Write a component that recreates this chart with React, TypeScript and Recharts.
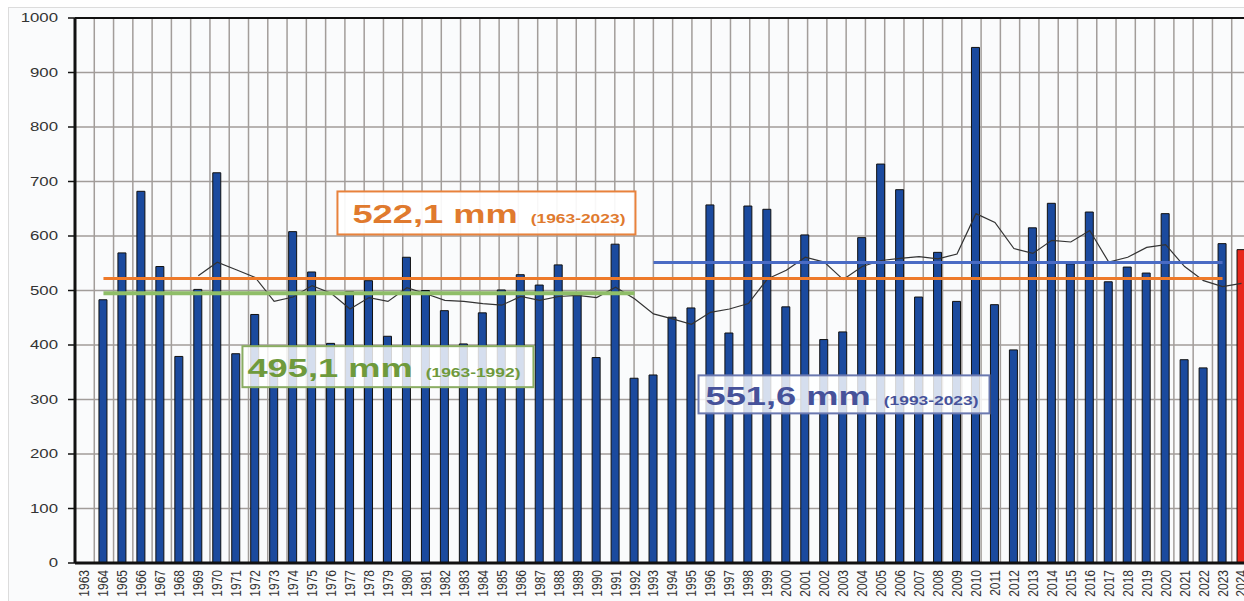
import React from 'react'
import {
  ComposedChart,
  Bar,
  Line,
  Cell,
  XAxis,
  YAxis,
  CartesianGrid,
  ReferenceLine
} from 'recharts'

// Jahre 1963-2024
const years = [
  '1963', '1964', '1965', '1966', '1967', '1968', '1969', '1970', '1971', '1972',
  '1973', '1974', '1975', '1976', '1977', '1978', '1979', '1980', '1981', '1982',
  '1983', '1984', '1985', '1986', '1987', '1988', '1989', '1990', '1991', '1992',
  '1993', '1994', '1995', '1996', '1997', '1998', '1999', '2000', '2001', '2002',
  '2003', '2004', '2005', '2006', '2007', '2008', '2009', '2010', '2011', '2012',
  '2013', '2014', '2015', '2016', '2017', '2018', '2019', '2020', '2021', '2022',
  '2023', '2024'
]

// Jahresniederschlag in mm
const rain = [
  null, 483, 569, 682, 544, 379, 502, 716, 384, 456,
  370, 608, 534, 403, 498, 518, 416, 561, 500, 463,
  402, 459, 501, 529, 510, 547, 492, 377, 585, 339,
  345, 451, 468, 657, 422, 655, 649, 470, 602, 410,
  424, 597, 732, 685, 488, 570, 480, 946, 474, 391,
  615, 660, 549, 644, 516, 543, 532, 641, 373, 358,
  586, 575
]

// gleitendes Mittel (dünne schwarze Linie)
const movingAvg = [
  null, null, null, null, null, null, 527, 552, 538, 524,
  480, 488, 509, 495, 466, 487, 480, 505, 494, 482,
  480, 476, 473, 489, 482, 489, 491, 487, 506, 485,
  457, 448, 438, 460, 466, 476, 521, 537, 561, 552,
  520, 544, 555, 559, 562, 558, 567, 641, 625, 577,
  568, 592, 589, 610, 552, 561, 579, 584, 544, 518,
  507, 513
]

const yTicks = [0, 100, 200, 300, 400, 500, 600, 700, 800, 900, 1000]

const BAR_BLUE = '#1b4a9e'
const BAR_RED = '#e8281c'

const FONT = '"Liberation Sans", Arial, sans-serif'

const chartData = years.map((year, i) => ({
  year,
  rain: rain[i],
  avg: movingAvg[i]
}))

// Grenzen zwischen den Jahren, für Gitterlinien und Striche
const boundaries = [...years.map((_, i) => i), years.length]

function YTick({ x, y, payload }: any) {
  return (
    <text
      transform={`translate(${x},${y}) scale(1.4,1)`}
      textAnchor="end"
      dominantBaseline="central"
      fontSize={12}
      fontFamily={FONT}
      fill="#333"
    >
      {payload.value}
    </text>
  )
}

function XTick({ x, y, payload }: any) {
  return (
    <text
      transform={`translate(${x},${y}) scale(1.25,1) rotate(-90)`}
      textAnchor="end"
      dominantBaseline="central"
      fontSize={12}
      fontFamily={FONT}
      fill="#333"
    >
      {payload.value}
    </text>
  )
}

function BoxLabel({ viewBox, dx, dy, w, h, tx, ty, value, period, color, border, opacity }: any) {
  if (!viewBox) return null
  const left = viewBox.x + dx
  const top = viewBox.y + dy
  return (
    <g>
      <rect
        x={left}
        y={top}
        width={w}
        height={h}
        fill="#ffffff"
        fillOpacity={opacity}
        stroke={border}
        strokeWidth={2}
      />
      <text
        transform={`translate(${left + tx},${top + ty}) scale(1.45,1)`}
        fontFamily={FONT}
        fontWeight="bold"
        fill={color}
      >
        <tspan fontSize={25}>{value}</tspan>
        <tspan fontSize={12} dx={9}>{period}</tspan>
      </text>
    </g>
  )
}

export default function App() {
  return (
    <div
      style={{
        position: 'fixed',
        left: 0,
        top: 0,
        width: 1244,
        height: 601,
        overflow: 'hidden',
        background: '#ffffff'
      }}
    >
      <div
        style={{
          position: 'absolute',
          left: 8,
          top: 7,
          width: 1250,
          height: 600,
          borderTop: '1px solid #dcdcdc',
          borderLeft: '1px solid #dcdcdc',
          background: '#fafbfc'
        }}
      />
      <div style={{ position: 'absolute', left: 0, top: 0 }}>
        <ComposedChart
          width={1270}
          height={601}
          data={chartData}
          margin={{ top: 18, right: 19, bottom: 0, left: 0 }}
          barCategoryGap={0}
        >
          <XAxis
            xAxisId="grid"
            type="number"
            domain={[0, years.length]}
            ticks={boundaries}
            allowDataOverflow
            height={0}
            axisLine={false}
            tickLine={{ stroke: '#111', strokeWidth: 2 }}
            tickSize={5}
            tick={() => <g />}
            interval={0}
          />
          <XAxis
            xAxisId="cat"
            dataKey="year"
            height={38}
            interval={0}
            tickLine={false}
            tickSize={5}
            tickMargin={2}
            axisLine={{ stroke: '#111', strokeWidth: 3 }}
            tick={<XTick />}
          />
          <YAxis
            domain={[0, 1000]}
            ticks={yTicks}
            width={75}
            interval={0}
            axisLine={{ stroke: '#111', strokeWidth: 3 }}
            tickLine={{ stroke: '#111', strokeWidth: 1.5 }}
            tickSize={7}
            tickMargin={10}
            tick={<YTick />}
          />
          <CartesianGrid xAxisId="grid" stroke="#a29d9a" strokeWidth={1.5} />
          <Bar
            xAxisId="cat"
            dataKey="rain"
            barSize={8}
            stroke="#111"
            strokeWidth={1}
            isAnimationActive={false}
          >
            {chartData.map((d, i) => (
              <Cell key={d.year} fill={i === years.length - 1 ? BAR_RED : BAR_BLUE} />
            ))}
          </Bar>
          <Line
            xAxisId="cat"
            dataKey="avg"
            type="linear"
            stroke="#333"
            strokeWidth={1.2}
            dot={false}
            connectNulls
            isAnimationActive={false}
          />
          <ReferenceLine xAxisId="cat" y={1000} stroke="#111" strokeWidth={2} ifOverflow="visible" />
          <ReferenceLine
            xAxisId="cat"
            segment={[{ x: '1964', y: 495.1 }, { x: '1992', y: 495.1 }]}
            stroke="#8fbe68"
            strokeWidth={4}
            ifOverflow="visible"
            label={
              <BoxLabel
                dx={139}
                dy={53}
                w={291}
                h={41}
                tx={5}
                ty={31}
                value="495,1 mm"
                period="(1963-1992)"
                color="#6f9a3c"
                border="#8aad62"
                opacity={0.82}
              />
            }
          />
          <ReferenceLine
            xAxisId="cat"
            segment={[{ x: '1964', y: 522.1 }, { x: '2023', y: 522.1 }]}
            stroke="#ee7a2a"
            strokeWidth={3}
            ifOverflow="visible"
            label={
              <BoxLabel
                dx={234}
                dy={-87}
                w={298}
                h={43}
                tx={15}
                ty={32}
                value="522,1 mm"
                period="(1963-2023)"
                color="#e07a2e"
                border="#e8823c"
                opacity={0.92}
              />
            }
          />
          <ReferenceLine
            xAxisId="cat"
            segment={[{ x: '1993', y: 551.6 }, { x: '2023', y: 551.6 }]}
            stroke="#4a6bc4"
            strokeWidth={3}
            ifOverflow="visible"
            label={
              <BoxLabel
                dx={45}
                dy={113}
                w={291}
                h={38}
                tx={7}
                ty={30}
                value="551,6 mm"
                period="(1993-2023)"
                color="#46529a"
                border="#6a78b0"
                opacity={0.82}
              />
            }
          />
        </ComposedChart>
      </div>
    </div>
  )
}
